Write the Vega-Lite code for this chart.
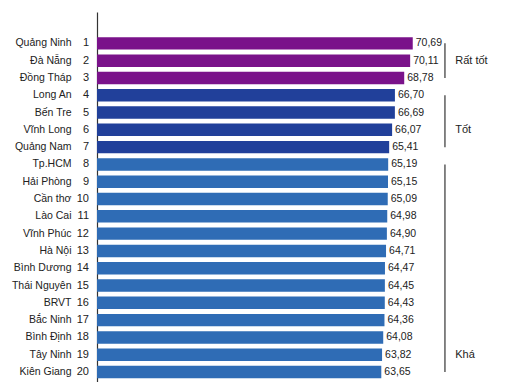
{
  "$schema": "https://vega.github.io/schema/vega-lite/v6.json",
  "width": 402,
  "height": 370,
  "autosize": "none",
  "padding": {"left": 97, "top": 12, "right": 11, "bottom": 0},
  "background": "white",
  "config": {
    "view": {"stroke": null},
    "font": "Liberation Sans",
    "locale": {"number": {"decimal": ",", "thousands": ".", "grouping": [3], "currency": ["", ""]}}
  },
  "datasets": {
    "rows": [
      {"name": "Quảng Ninh", "rank": 1, "value": 70.69, "group": "Rất tốt"},
      {"name": "Đà Nẵng", "rank": 2, "value": 70.11, "group": "Rất tốt"},
      {"name": "Đồng Tháp", "rank": 3, "value": 68.78, "group": "Rất tốt"},
      {"name": "Long An", "rank": 4, "value": 66.70, "group": "Tốt"},
      {"name": "Bến Tre", "rank": 5, "value": 66.69, "group": "Tốt"},
      {"name": "Vĩnh Long", "rank": 6, "value": 66.07, "group": "Tốt"},
      {"name": "Quảng Nam", "rank": 7, "value": 65.41, "group": "Tốt"},
      {"name": "Tp.HCM", "rank": 8, "value": 65.19, "group": "Khá"},
      {"name": "Hải Phòng", "rank": 9, "value": 65.15, "group": "Khá"},
      {"name": "Cần thơ", "rank": 10, "value": 65.09, "group": "Khá"},
      {"name": "Lào Cai", "rank": 11, "value": 64.98, "group": "Khá"},
      {"name": "Vĩnh Phúc", "rank": 12, "value": 64.90, "group": "Khá"},
      {"name": "Hà Nội", "rank": 13, "value": 64.71, "group": "Khá"},
      {"name": "Bình Dương", "rank": 14, "value": 64.47, "group": "Khá"},
      {"name": "Thái Nguyên", "rank": 15, "value": 64.45, "group": "Khá"},
      {"name": "BRVT", "rank": 16, "value": 64.43, "group": "Khá"},
      {"name": "Bắc Ninh", "rank": 17, "value": 64.36, "group": "Khá"},
      {"name": "Bình Định", "rank": 18, "value": 64.08, "group": "Khá"},
      {"name": "Tây Ninh", "rank": 19, "value": 63.82, "group": "Khá"},
      {"name": "Kiên Giang", "rank": 20, "value": 63.65, "group": "Khá"}
    ],
    "groups": [
      {"label": "Rất tốt", "first": "Quảng Ninh", "last": "Đồng Tháp", "at": "Đà Nẵng"},
      {"label": "Tốt", "first": "Long An", "last": "Quảng Nam", "at": "Vĩnh Long"},
      {"label": "Khá", "first": "Tp.HCM", "last": "Kiên Giang", "at": "Tây Ninh"}
    ]
  },
  "layer": [
    {
      "data": {"name": "rows"},
      "mark": {"type": "bar"},
      "encoding": {
        "y": {
          "field": "name", "type": "nominal", "sort": null,
          "scale": {"type": "band", "paddingInner": 0.28, "paddingOuter": 0.835, "align": 0.87},
          "axis": {"title": null, "ticks": false, "labelPadding": 26, "domainColor": "#333333", "domainWidth": 1.2, "labelFont": "Liberation Sans", "labelFontSize": 10.5, "labelColor": "#222222"}
        },
        "x": {"field": "value", "type": "quantitative", "scale": {"domain": [0, 90], "nice": false}, "axis": null},
        "color": {
          "field": "group", "type": "nominal",
          "scale": {"domain": ["Rất tốt", "Tốt", "Khá"], "range": ["#7a128a", "#21409a", "#2f6cb5"]},
          "legend": null
        }
      }
    },
    {
      "data": {"name": "rows"},
      "mark": {"type": "text", "align": "left", "dx": 3, "fontSize": 10.5, "color": "#222222"},
      "encoding": {
        "y": {"field": "name", "type": "nominal", "sort": null},
        "x": {"field": "value", "type": "quantitative"},
        "text": {"field": "value", "type": "quantitative", "format": ".2f"}
      }
    },
    {
      "data": {"name": "rows"},
      "mark": {"type": "text", "align": "right", "dx": -8, "fontSize": 11, "color": "#222222"},
      "encoding": {
        "y": {"field": "name", "type": "nominal", "sort": null},
        "x": {"datum": 0, "type": "quantitative"},
        "text": {"field": "rank", "type": "nominal"}
      }
    },
    {
      "data": {"name": "groups"},
      "mark": {"type": "rule", "color": "#333333", "strokeWidth": 1.2},
      "encoding": {
        "y": {"field": "first", "type": "nominal", "sort": null},
        "y2": {"field": "last"},
        "x": {"datum": 77.9, "type": "quantitative"}
      }
    },
    {
      "data": {"name": "groups"},
      "mark": {"type": "text", "align": "left", "fontSize": 11, "color": "#222222"},
      "encoding": {
        "y": {"field": "at", "type": "nominal", "sort": null},
        "x": {"datum": 80.2, "type": "quantitative"},
        "text": {"field": "label", "type": "nominal"}
      }
    }
  ]
}
